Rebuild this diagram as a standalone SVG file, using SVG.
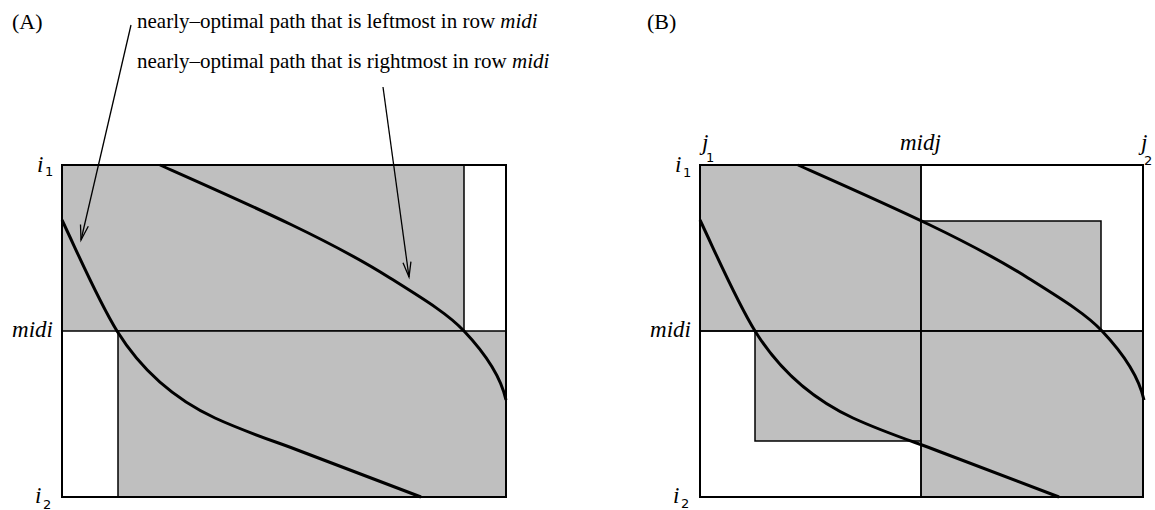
<svg xmlns="http://www.w3.org/2000/svg" width="1155" height="510" viewBox="0 0 1155 510">
<style>
.t{font-family:"Liberation Serif","Times New Roman",serif;fill:#000}
.it{font-family:"Liberation Serif","Times New Roman",serif;font-style:italic;font-size:23px;fill:#000}
.sub{font-family:"DejaVu Sans",sans-serif;font-size:13px;fill:#000}
.outer{fill:#fff;stroke:#000;stroke-width:2}
.gray{fill:#bfbfbf;stroke:#000;stroke-width:1.5}
.path{fill:none;stroke:#000;stroke-width:3}
.lead{fill:none;stroke:#000;stroke-width:1.3}
</style>
<defs>
<marker id="arr" viewBox="-17 -6 18 12" markerWidth="18" markerHeight="12" refX="0" refY="0" orient="auto" markerUnits="userSpaceOnUse" overflow="visible">
<path d="M-15,-4 L0,0 L-15,4" fill="none" stroke="#000" stroke-width="1.3"/>
</marker>
<path id="leftPath" d="M62,220 C80,258 98,300 117,331 C140,368 170,397 215,418 C250,434 280,443 300,451 L421,497"/>
<path id="rightPath" d="M160,165 C250,205 330,240 390,278 C425,300 448,314 464,331 C482,350 500,373 506,400"/>
</defs>
<rect width="1155" height="510" fill="#fff"/>

<g id="panelA">
<g id="A-box"><rect class="outer" x="62" y="165" width="444" height="332"/></g>
<g id="A-upper"><rect class="gray" x="62" y="165" width="402" height="166"/></g>
<g id="A-lower"><rect class="gray" x="118" y="331" width="388" height="166"/></g>
<g id="A-left-path"><use href="#leftPath" class="path"/></g>
<g id="A-right-path"><use href="#rightPath" class="path"/></g>
<rect x="62" y="165" width="444" height="332" fill="none" stroke="#000" stroke-width="2"/>
<g id="A-labels">
<text class="t" x="12" y="29" font-size="22">(A)</text>
<text class="it" x="37" y="172">i</text><text class="sub" x="45" y="176">1</text>
<text class="it" x="53" y="337" text-anchor="end">midi</text>
<text class="it" x="35" y="503">i</text><text class="sub" x="43" y="509">2</text>
</g>
<g id="A-annotations">
<text class="t" x="137" y="28" font-size="21">nearly–optimal path that is leftmost in row <tspan font-style="italic">midi</tspan></text>
<text class="t" x="137" y="68" font-size="21">nearly–optimal path that is rightmost in row <tspan font-style="italic">midi</tspan></text>
</g>
</g>

<g id="connectors">
<line class="lead" x1="131" y1="25" x2="81" y2="240" marker-end="url(#arr)"/>
<line class="lead" x1="383" y1="87" x2="409" y2="277" marker-end="url(#arr)"/>
</g>

<g id="panelB">
<g id="B-box"><rect class="outer" x="700" y="165" width="443" height="332"/></g>
<g id="B-top-left"><rect class="gray" x="700" y="165" width="221" height="166"/></g>
<g id="B-top-right"><rect class="gray" x="921" y="221" width="180" height="110"/></g>
<g id="B-bottom-left"><rect class="gray" x="755" y="331" width="166" height="110"/></g>
<g id="B-bottom-right"><rect class="gray" x="921" y="331" width="222" height="166"/></g>
<line x1="921" y1="165" x2="921" y2="497" stroke="#000" stroke-width="1.5"/>
<line x1="700" y1="331" x2="1143" y2="331" stroke="#000" stroke-width="1.5"/>
<g id="B-left-path" transform="translate(638,0)"><use href="#leftPath" class="path"/></g>
<g id="B-right-path" transform="translate(638,0)"><use href="#rightPath" class="path"/></g>
<rect x="700" y="165" width="443" height="332" fill="none" stroke="#000" stroke-width="2"/>
<g id="B-labels">
<text class="t" x="647" y="29" font-size="22">(B)</text>
<text class="it" x="702" y="150">j</text><text class="sub" x="706" y="162">1</text>
<text class="it" x="900" y="150">midj</text>
<text class="it" x="1141" y="150">j</text><text class="sub" x="1144" y="165">2</text>
<text class="it" x="675" y="172">i</text><text class="sub" x="683" y="177">1</text>
<text class="it" x="691" y="337" text-anchor="end">midi</text>
<text class="it" x="673" y="503">i</text><text class="sub" x="681" y="508">2</text>
</g>
</g>
</svg>
